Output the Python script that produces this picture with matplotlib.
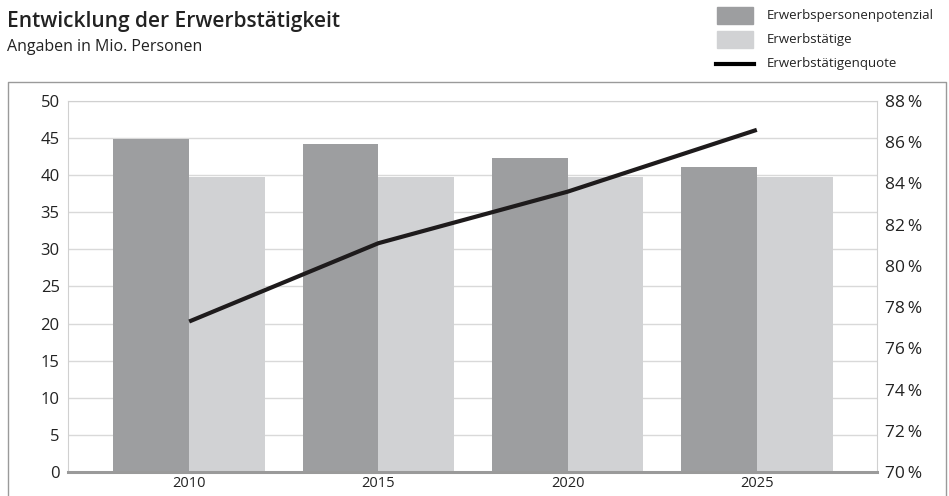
import matplotlib.pyplot as plt
import numpy as np
from matplotlib.lines import Line2D
from matplotlib.patches import Rectangle

plt.rcParams['font.family'] = ['Open Sans', 'DejaVu Sans']

# Daten
years = ['2010', '2015', '2020', '2025']
potenzial = [44.9, 44.2, 42.3, 41.1]      # Erwerbspersonenpotenzial, Mio.
erwerbstaetige = [39.8, 39.8, 39.8, 39.8]  # Erwerbstätige, Mio.
quote = [77.3, 81.1, 83.6, 86.6]           # Erwerbstätigenquote, %
left_ticks = [0, 5, 10, 15, 20, 25, 30, 35, 40, 45, 50]
right_ticks = [70, 72, 74, 76, 78, 80, 82, 84, 86, 88]

dark = '#9d9ea0'
light = '#d1d2d4'
grid_c = '#d9d9d9'
txt = '#222222'

fig = plt.figure(figsize=(9.49, 4.96), dpi=100)
ax = fig.add_axes([0.0717, 0.0484, 0.8524, 0.748])
x = np.arange(len(years))
w = 0.4

ax.bar(x - w / 2, potenzial, width=w, color=dark, zorder=2)
ax.bar(x + w / 2, erwerbstaetige, width=w, color=light, zorder=2)
ax.set_xlim(-0.64, 3.635)
ax.set_ylim(0, 50)
ax.set_yticks(left_ticks)
ax.set_yticklabels([str(t) for t in left_ticks], fontsize=12, color=txt)
ax.set_xticks(x)
ax.set_xticklabels(years, fontsize=10.5, color=txt)
ax.tick_params(length=0, pad=6)
ax.tick_params(axis='x', pad=3)
ax.grid(axis='y', color=grid_c, linewidth=1, zorder=0)
for s in ['left', 'top', 'right']:
    ax.spines[s].set_color('#d0d0d0')
    ax.spines[s].set_linewidth(0.8)
ax.spines['bottom'].set_color('#9a9a9a')
ax.spines['bottom'].set_linewidth(2.2)
ax.spines['bottom'].set_zorder(3)

ax2 = ax.twinx()
ax2.plot(x, quote, color='#1e1b1c', linewidth=3, solid_capstyle='butt', zorder=4)
ax2.set_ylim(70, 88)
ax2.set_yticks(right_ticks)
ax2.set_yticklabels([f'{t}\u2009%' for t in right_ticks], fontsize=12.5, color=txt)
ax2.tick_params(length=0, pad=6)
for s in ax2.spines.values():
    s.set_visible(False)

# Titel
fig.text(7 / 949, 1 - 22 / 496, 'Entwicklung der Erwerbstätigkeit', fontsize=15,
         fontweight='semibold', color=txt, va='center', ha='left')
fig.text(7 / 949, 1 - 47 / 496, 'Angaben in Mio. Personen', fontsize=11.5,
         color=txt, va='center', ha='left')

# Legende
W, H = 949, 496
fig.add_artist(Rectangle((717 / W, 1 - 24 / H), 36 / W, 17 / H, color=dark,
                         transform=fig.transFigure))
fig.add_artist(Rectangle((717 / W, 1 - 48 / H), 36 / W, 17 / H, color=light,
                         transform=fig.transFigure))
fig.add_artist(Line2D([716 / W, 754 / W], [1 - 64 / H, 1 - 64 / H], color='black',
                      linewidth=3, transform=fig.transFigure))
for yy, lab in [(15, 'Erwerbspersonenpotenzial'), (39, 'Erwerbstätige'),
                (63, 'Erwerbstätigenquote')]:
    fig.text(767 / W, 1 - yy / H, lab, fontsize=9.5, color=txt, va='center', ha='left')

# Rahmen
fy = 1 - 82 / H
fig.add_artist(Line2D([8 / W, 8 / W, 945.5 / W, 945.5 / W], [0, fy, fy, 0],
                      color='#9a9a9a', linewidth=1, transform=fig.transFigure))

fig.savefig('out.png', dpi=100)
